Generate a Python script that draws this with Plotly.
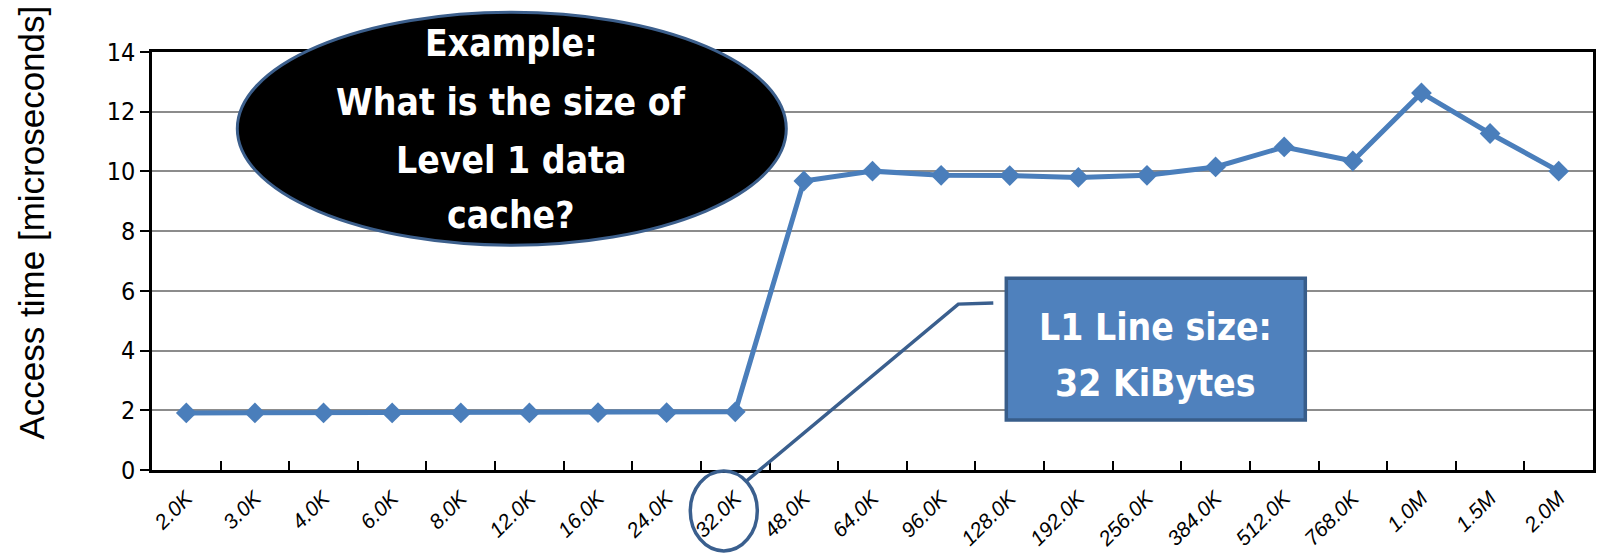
import plotly.graph_objects as go

# ---- data ----
categories = ["2.0K", "3.0K", "4.0K", "6.0K", "8.0K", "12.0K", "16.0K", "24.0K", "32.0K",
              "48.0K", "64.0K", "96.0K", "128.0K", "192.0K", "256.0K", "384.0K", "512.0K",
              "768.0K", "1.0M", "1.5M", "2.0M"]
access_time = [1.91, 1.91, 1.91, 1.91, 1.91, 1.91, 1.92, 1.92, 1.95,
               9.68, 10.01, 9.87, 9.86, 9.8, 9.87, 10.15, 10.82,
               10.35, 12.63, 11.27, 10.01]
y_ticks = [0, 2, 4, 6, 8, 10, 12, 14]
y_title = "Access time [microseconds]"
bubble_lines = ["Example:", "What is the size of", "Level 1 data", "cache?"]
box_lines = ["L1 Line size:", "32 KiBytes"]

W, H = 1601, 556
L, R, T, B = 151.7, 1592.7, 51.7, 470.0


def px(x):
    return (x - L) / (R - L)


def py(y):
    return (B - y) / (B - T)


NARROW = "Liberation Sans Narrow, Arial Narrow, DejaVu Sans Condensed, sans-serif"
BLUE = "#4A7EBB"
DARK = "#3A5F8E"

fig = go.Figure()
fig.add_trace(go.Scatter(
    x=categories, y=access_time, mode="lines+markers",
    line=dict(color=BLUE, width=5),
    marker=dict(symbol="diamond", size=16, color=BLUE),
    showlegend=False, cliponaxis=False,
))

shapes = [
    # bubble
    dict(type="circle", xref="paper", yref="paper", layer="above",
         x0=px(237), x1=px(786), y0=py(245), y1=py(12),
         fillcolor="black", line=dict(color="#3C5F8C", width=3)),
    # callout line
    dict(type="path", xref="paper", yref="paper", layer="above",
         path=f"M {px(745)} {py(482)} L {px(958)} {py(304)} L {px(993)} {py(303)}",
         line=dict(color=DARK, width=3.5)),
    # circle around 32.0K label
    dict(type="circle", xref="paper", yref="paper", layer="above",
         x0=px(690), x1=px(757), y0=py(551), y1=py(471),
         line=dict(color=DARK, width=3.5)),
    # blue box
    dict(type="rect", xref="paper", yref="paper", layer="above",
         x0=px(1006), x1=px(1305), y0=py(420), y1=py(278),
         fillcolor="#4F81BD", line=dict(color="#385D8A", width=3.5)),
]

annotations = []
for txt, yy in zip(bubble_lines, [43, 102, 160, 215]):
    annotations.append(dict(text=f"<b>{txt}</b>", xref="paper", yref="paper",
                            x=px(511), y=py(yy), showarrow=False,
                            xanchor="center", yanchor="middle",
                            font=dict(family=NARROW, size=37, color="white")))
for txt, yy in zip(box_lines, [327, 383]):
    annotations.append(dict(text=f"<b>{txt}</b>", xref="paper", yref="paper",
                            x=px(1155), y=py(yy), showarrow=False,
                            xanchor="center", yanchor="middle",
                            font=dict(family=NARROW, size=37, color="white")))
annotations.append(dict(text=y_title, xref="paper", yref="paper",
                        x=px(31), y=py(222), showarrow=False, textangle=-90,
                        xanchor="center", yanchor="middle",
                        font=dict(family="Liberation Sans, Arial, sans-serif", size=35, color="black")))

fig.update_layout(
    width=W, height=H,
    margin=dict(l=L, r=W - R, t=T, b=H - B, pad=0),
    paper_bgcolor="white", plot_bgcolor="white",
    shapes=shapes, annotations=annotations,
    xaxis=dict(type="category", showline=True, linecolor="black", linewidth=2.5, mirror=True,
               ticks="inside", tickson="boundaries", ticklen=9, tickwidth=2, tickcolor="black",
               tickangle=-45, showgrid=False, range=[-0.5, len(categories) - 0.5],
               automargin=False, ticklabelstandoff=5,
               tickfont=dict(family="Liberation Sans, Arial, sans-serif", size=21,
                             color="black", style="italic"),
               ),
    yaxis=dict(range=[0, 14], tickvals=y_ticks, showline=True, linecolor="black", linewidth=2.5,
               mirror=True, ticks="outside", ticklen=9, tickwidth=2, tickcolor="black",
               showgrid=True, gridcolor="#8C8C8C", gridwidth=2, zeroline=False, automargin=False,
               tickfont=dict(family=NARROW, size=25, color="black")),
)

fig.write_html("out.html")
